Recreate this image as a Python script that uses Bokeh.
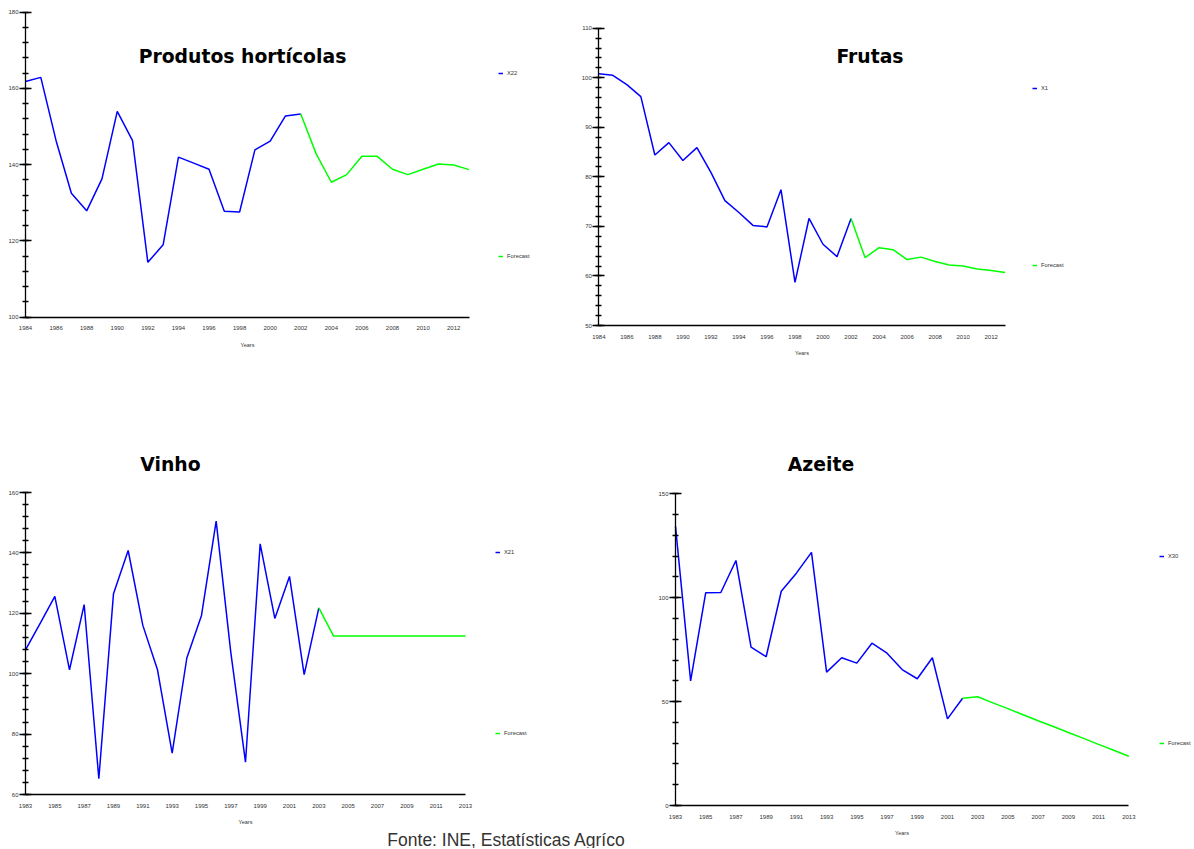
from bokeh.plotting import figure
from bokeh.models import Range1d, SingleIntervalTicker, FixedTicker, Label, Legend, LegendItem
from bokeh.layouts import column, row
from bokeh.embed import file_html
from bokeh.resources import INLINE

# ---------------- data ----------------
hort_years = list(range(1984, 2003))
hort_values = [161.8, 162.9, 146.3, 132.5, 127.9, 136.3, 154.0, 146.3, 114.4, 119.0,
               142.0, 140.4, 138.8, 127.8, 127.6, 143.9, 146.2, 152.8, 153.3]
hort_fc_years = list(range(2002, 2014))
hort_fc_values = [153.3, 142.9, 135.4, 137.4, 142.2, 142.2, 138.8, 137.4, 138.8, 140.2, 139.9, 138.7]

fruit_years = list(range(1984, 2003))
fruit_values = [100.8, 100.5, 98.6, 96.2, 84.4, 86.9, 83.3, 85.9, 80.9, 75.2,
                72.8, 70.2, 69.9, 77.4, 58.7, 71.6, 66.4, 63.9, 71.6]
fruit_fc_years = list(range(2002, 2014))
fruit_fc_values = [71.6, 63.7, 65.7, 65.3, 63.3, 63.8, 62.9, 62.2, 62.0, 61.4, 61.1, 60.7]

wine_years = list(range(1983, 2004))
wine_values = [107.9, 116.7, 125.6, 101.3, 122.9, 65.2, 126.5, 140.8, 116.0, 101.3,
               73.7, 105.2, 119.3, 150.5, 107.0, 70.7, 143.0, 118.3, 132.2, 99.7, 121.8]
wine_fc_years = list(range(2003, 2014))
wine_fc_values = [121.8, 112.5, 112.5, 112.5, 112.5, 112.5, 112.5, 112.5, 112.5, 112.5, 112.5]

oil_years = list(range(1983, 2003))
oil_values = [134.3, 60.0, 102.4, 102.5, 117.9, 76.2, 71.6, 103.1, 111.8, 121.8,
              64.2, 71.1, 68.5, 78.1, 73.3, 65.4, 61.0, 71.1, 41.7, 51.6]
oil_fc_years = list(range(2002, 2014))
oil_fc_values = [51.6, 52.3, 49.4, 46.6, 43.7, 40.8, 38.0, 35.1, 32.3, 29.4, 26.6, 23.7]

ticks_even = [1984, 1986, 1988, 1990, 1992, 1994, 1996, 1998, 2000, 2002, 2004, 2006, 2008, 2010, 2012]
ticks_odd = [1983, 1985, 1987, 1989, 1991, 1993, 1995, 1997, 1999, 2001, 2003, 2005, 2007, 2009, 2011, 2013]

footer_text = "Fonte: INE, Estatísticas Agríco"

BLUE = "#0000FF"
GREEN = "#00FF00"
SMALL_FONT = "Liberation Sans"
TEXT_GREY = "#333333"


def panel(title, series_label, years, vals, fc_years, fc_vals,
          x_bounds, y_bounds, y_interval, xticks,
          cell, x_anchor, y_anchor, title_pos, legend_pos, legend_spacing, footer=None):
    """cell = (left, top, width, height) on the page; anchors/positions in page pixels."""
    cx, cy, w, h = cell
    (xv0, xp0), (xv1, xp1) = x_anchor
    (yv0, yp0), (yv1, yp1) = y_anchor
    xp0 -= cx; xp1 -= cx
    yp0 -= cy; yp1 -= cy
    xs = (xp1 - xp0) / (xv1 - xv0)          # px per year
    ys = (yp1 - yp0) / (yv1 - yv0)          # px per unit (negative)

    def to_data(px, py):
        return xv0 + (px - cx - xp0) / xs, yv0 + (py - cy - yp0) / ys

    x_start, y_start = to_data(cx, cy + h)
    x_end, y_end = to_data(cx + w, cy)

    p = figure(width=w, height=h, output_backend="svg", toolbar_location=None,
               x_range=Range1d(x_start, x_end), y_range=Range1d(y_start, y_end),
               min_border=0)
    p.title.visible = False
    p.outline_line_color = None
    p.grid.visible = False
    p.background_fill_color = "white"
    p.border_fill_color = "white"

    r1 = p.line(years, vals, line_color=BLUE, line_width=1.5)
    r2 = p.line(fc_years, fc_vals, line_color=GREEN, line_width=1.5)

    # y axis
    ya = p.yaxis[0]
    ya.fixed_location = x_bounds[0]
    ya.bounds = y_bounds
    ya.ticker = SingleIntervalTicker(interval=y_interval, num_minor_ticks=5)
    ya.major_tick_in = 6
    ya.major_tick_out = 6
    ya.minor_tick_in = 3
    ya.minor_tick_out = 3
    ya.major_tick_line_width = 1.5
    ya.minor_tick_line_width = 1.5
    ya.axis_line_width = 1.3
    ya.axis_line_color = "black"
    ya.major_tick_line_color = "black"
    ya.minor_tick_line_color = "black"
    ya.major_label_standoff = 1
    ya.major_label_text_font = SMALL_FONT
    ya.major_label_text_font_size = "6px"
    ya.major_label_text_color = TEXT_GREY

    # x axis
    xa = p.xaxis[0]
    xa.fixed_location = y_bounds[0]
    xa.bounds = x_bounds
    xa.ticker = FixedTicker(ticks=xticks, minor_ticks=[])
    xa.major_tick_in = 0
    xa.major_tick_out = 0
    xa.minor_tick_in = 0
    xa.minor_tick_out = 0
    xa.axis_line_width = 1.6
    xa.axis_line_color = "black"
    xa.major_label_standoff = 9
    xa.major_label_text_font = SMALL_FONT
    xa.major_label_text_font_size = "6px"
    xa.major_label_text_color = TEXT_GREY
    xa.axis_label = "Years"
    xa.axis_label_text_font = SMALL_FONT
    xa.axis_label_text_font_size = "5.5px"
    xa.axis_label_text_font_style = "normal"
    xa.axis_label_text_color = TEXT_GREY
    xa.axis_label_standoff = 8

    tx, ty = to_data(*title_pos)
    p.add_layout(Label(x=tx, y=ty, text=title, text_align="center", text_baseline="alphabetic",
                       text_font="DejaVu Sans", text_font_style="bold", text_font_size="18.8px",
                       text_color="black"))

    legend = Legend(items=[LegendItem(label=series_label, renderers=[r1]),
                           LegendItem(label="Forecast", renderers=[r2])],
                    location=(legend_pos[0] - cx, (cy + h) - legend_pos[1]),
                    orientation="vertical", spacing=int(round(legend_spacing)), padding=0, margin=0,
                    border_line_color=None, background_fill_alpha=0,
                    glyph_width=5, glyph_height=8, label_height=8, label_standoff=4,
                    label_text_font=SMALL_FONT, label_text_font_size="5.8px",
                    label_text_color=TEXT_GREY)
    p.add_layout(legend)

    if footer is not None:
        fx, fy = to_data(footer[1], footer[2])
        p.add_layout(Label(x=fx, y=fy, text=footer[0], text_align="center", text_baseline="alphabetic",
                           text_font=SMALL_FONT, text_font_size="17.5px", text_color=TEXT_GREY))
    return p


pA = panel("Produtos hortícolas", "X22", hort_years, hort_values, hort_fc_years, hort_fc_values,
           (1984, 2013), (100, 180), 20, ticks_even,
           cell=(0, 0, 560, 380), x_anchor=((1984, 25), (2013, 468.5)),
           y_anchor=((180, 11.7), (100, 316.7)),
           title_pos=(242, 56), legend_pos=(498, 260), legend_spacing=175)

pB = panel("Frutas", "X1", fruit_years, fruit_values, fruit_fc_years, fruit_fc_values,
           (1984, 2013), (50, 110), 10, ticks_even,
           cell=(560, 0, 633, 380), x_anchor=((1984, 598.3), (2013, 1004.7)),
           y_anchor=((110, 27.7), (50, 325)),
           title_pos=(869.5, 56), legend_pos=(1032, 269), legend_spacing=169)

pC = panel("Vinho", "X21", wine_years, wine_values, wine_fc_years, wine_fc_values,
           (1983, 2013), (60, 160), 20, ticks_odd,
           cell=(0, 380, 640, 468), x_anchor=((1983, 25), (2013, 465)),
           y_anchor=((160, 492), (60, 794)),
           title_pos=(170, 464.3), legend_pos=(495, 737.3), legend_spacing=173,
           footer=(footer_text, 506, 839))

pD = panel("Azeite", "X30", oil_years, oil_values, oil_fc_years, oil_fc_values,
           (1983, 2013), (0, 150), 50, ticks_odd,
           cell=(640, 380, 553, 468), x_anchor=((1983, 675), (2013, 1128.3)),
           y_anchor=((150, 493.3), (0, 805)),
           title_pos=(820.5, 464), legend_pos=(1159, 746.7), legend_spacing=179)

layout = column(row(pA, pB, spacing=0), row(pC, pD, spacing=0), spacing=0)

open("out.html", "w").write(file_html(layout, INLINE))
